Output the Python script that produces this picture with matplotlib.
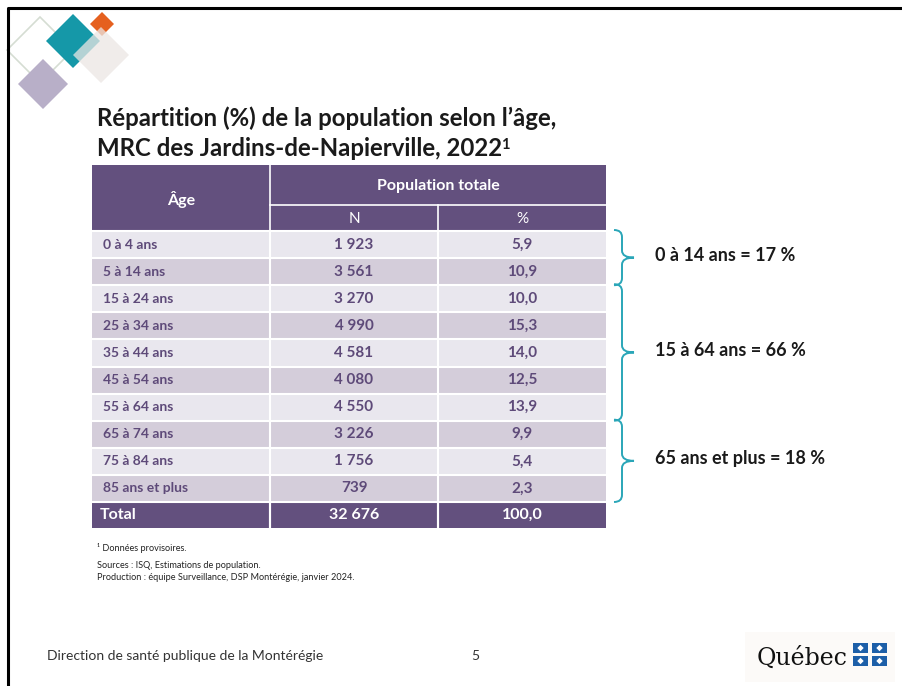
import matplotlib
matplotlib.use("Agg")
import matplotlib.pyplot as plt
from matplotlib.patches import Rectangle, Polygon, PathPatch
from matplotlib.path import Path

plt.rcParams['font.family'] = ['Lato', 'DejaVu Sans']

# data
ages = ["0 à 4 ans", "5 à 14 ans", "15 à 24 ans", "25 à 34 ans", "35 à 44 ans",
        "45 à 54 ans", "55 à 64 ans", "65 à 74 ans", "75 à 84 ans", "85 ans et plus"]
counts = [1923, 3561, 3270, 4990, 4581, 4080, 4550, 3226, 1756, 739]
pcts = [5.9, 10.9, 10.0, 15.3, 14.0, 12.5, 13.9, 9.9, 5.4, 2.3]
total_n = 32676
total_pct = 100.0
group_labels = ["0 à 14 ans = 17 %", "15 à 64 ans = 66 %", "65 ans et plus = 18 %"]
group_rows = [(0, 2), (2, 7), (7, 10)]

purple = "#63507e"
txt_purple = "#5e4a79"
row_a = "#e9e7ee"
row_b = "#d4cdda"
teal = "#2aa6b8"


def fmt_n(v):
    return f"{v:,}".replace(",", " ")


def fmt_p(v):
    return f"{v:.1f}".replace(".", ",")


fig = plt.figure(figsize=(9.02, 6.86), dpi=100)
ax = fig.add_axes([0, 0, 1, 1])
ax.set_xlim(0, 902)
ax.set_ylim(686, 0)
ax.axis("off")

# slide frame
ax.plot([8, 8, 902], [686, 8, 8], color="black", lw=2.2, solid_capstyle="butt")

# corner logo (diamonds)
def diamond(cx, cy, h, **kw):
    return Polygon([(cx, cy - h), (cx + h, cy), (cx, cy + h), (cx - h, cy)], closed=True, **kw)

ax.add_patch(diamond(40, 50, 33, fill=False, ec="#d5ddd3", lw=1.2))
ax.add_patch(diamond(43, 84, 25, fc="#b8afc8", ec="none"))
ax.add_patch(diamond(102, 24, 12, fc="#e5601f", ec="none"))
ax.add_patch(diamond(73, 41, 27, fc="#1598a8", ec="none"))
ax.add_patch(diamond(101, 55, 28, fc="#ebe6e4", ec="none", alpha=0.75))

# title
ax.text(97, 118, "Répartition (%) de la population selon l’âge,", fontsize=17.3,
        fontweight="bold", color="#1a1a1a", va="center", ha="left")
t2 = ax.text(97, 148, "MRC des Jardins-de-Napierville, 2022", fontsize=17.3,
             fontweight="bold", color="#1a1a1a", va="center", ha="left")
ax.annotate("1", xy=(1, 1), xycoords=t2, xytext=(-1, -1), textcoords="offset points",
            fontsize=10.5, fontweight="bold", color="#1a1a1a", ha="left", va="top")

# table geometry
x0, x1, x2, x3 = 92, 270, 438, 606
h_top, h_mid, h_bot = 165, 205, 231
body_end = 502
tot_end = 528
rh = (body_end - h_bot) / len(ages)

# header
ax.add_patch(Rectangle((x0, h_top), x3 - x0, h_bot - h_top, fc=purple, ec="none"))
ax.plot([x1, x1], [h_top, h_bot], color="white", lw=1.2)
ax.plot([x1, x3], [h_mid, h_mid], color="white", lw=1.2)
ax.plot([x2, x2], [h_mid, h_bot], color="white", lw=1.2)
ax.text((x0 + x1) / 2, 199, "Âge", color="white", fontsize=11.5, fontweight="bold", ha="center", va="center")
ax.text((x1 + x3) / 2, 186, "Population totale", color="white", fontsize=11.5, fontweight="bold", ha="center", va="center")
ax.text((x1 + x2) / 2, 219, "N", color="white", fontsize=11, ha="center", va="center")
ax.text((x2 + x3) / 2, 219, "%", color="white", fontsize=11, ha="center", va="center")

# body rows
for i, (a, n, p) in enumerate(zip(ages, counts, pcts)):
    y = h_bot + i * rh
    ax.add_patch(Rectangle((x0, y), x3 - x0, rh, fc=row_a if i % 2 == 0 else row_b, ec="none"))
    yc = y + rh / 2
    ax.text(x0 + 11, yc, a, color=txt_purple, fontsize=10, fontweight="bold", ha="left", va="center")
    ax.text((x1 + x2) / 2, yc, fmt_n(n), color=txt_purple, fontsize=11, fontweight="bold", ha="center", va="center")
    ax.text((x2 + x3) / 2, yc, fmt_p(p), color=txt_purple, fontsize=11, fontweight="bold", ha="center", va="center")
    ax.plot([x0, x3], [y, y], color="white", lw=1.5)
for xv in (x1, x2):
    ax.plot([xv, xv], [h_bot, tot_end], color="white", lw=1.5)

# total row
ax.add_patch(Rectangle((x0, body_end), x3 - x0, tot_end - body_end, fc=purple, ec="none"))
ax.plot([x0, x3], [body_end, body_end], color="white", lw=1.5)
ax.plot([x1, x1], [body_end, tot_end], color="white", lw=1.5)
ax.plot([x2, x2], [body_end, tot_end], color="white", lw=1.5)
yc = (body_end + tot_end) / 2
ax.text(x0 + 8, yc, "Total", color="white", fontsize=11.5, fontweight="bold", ha="left", va="center")
ax.text((x1 + x2) / 2, yc, fmt_n(total_n), color="white", fontsize=11.5, fontweight="bold", ha="center", va="center")
ax.text((x2 + x3) / 2, yc, fmt_p(total_pct), color="white", fontsize=11.5, fontweight="bold", ha="center", va="center")


# braces
def brace(ya, yb, xe=614, xl=622, xt=634, r=7):
    ym = (ya + yb) / 2
    verts = [(xe, ya), (xl, ya), (xl, ya + r),
             (xl, ym - r), (xl, ym), (xt, ym),
             (xl, ym), (xl, ym + r),
             (xl, yb - r), (xl, yb), (xe, yb)]
    codes = [Path.MOVETO, Path.CURVE3, Path.CURVE3,
             Path.LINETO, Path.CURVE3, Path.CURVE3,
             Path.CURVE3, Path.CURVE3,
             Path.LINETO, Path.CURVE3, Path.CURVE3]
    ax.add_patch(PathPatch(Path(verts, codes), fc="none", ec=teal, lw=1.4))
    return ym


for lab, (ra, rb) in zip(group_labels, group_rows):
    ym = brace(h_bot + ra * rh - 1, h_bot + rb * rh)
    ax.text(655, ym - 2, lab, fontsize=13, fontweight="bold", color="#1a1a1a", ha="left", va="center")

# footnotes
ax.text(97, 548, "¹ Données provisoires.", fontsize=6.6, color="#222222", ha="left", va="center")
ax.text(97, 565, "Sources : ISQ, Estimations de population.", fontsize=6.6, color="#222222", ha="left", va="center")
ax.text(97, 577, "Production : équipe Surveillance, DSP Montérégie, janvier 2024.", fontsize=6.6,
        color="#222222", ha="left", va="center")

# footer
ax.text(47, 656, "Direction de santé publique de la Montérégie", fontsize=10, color="#333333",
        ha="left", va="center")
ax.text(475, 656, "5", fontsize=10, color="#333333", ha="center", va="center")

# Quebec logo
ax.add_patch(Rectangle((745, 632), 150, 50, fc="#fcfaf8", ec="none"))
ax.text(757, 658, "Québec", fontsize=17, family="DejaVu Serif", color="#111111", ha="left", va="center")
flag_blue = "#1d5fa8"
for fx in (853, 872):
    for fy in (643, 656):
        ax.add_patch(Rectangle((fx, fy), 15, 10, fc=flag_blue, ec="none"))
        ax.add_patch(diamond(fx + 7.5, fy + 5, 3.2, fc="white", ec="none"))

fig.savefig("out.png", dpi=100)
